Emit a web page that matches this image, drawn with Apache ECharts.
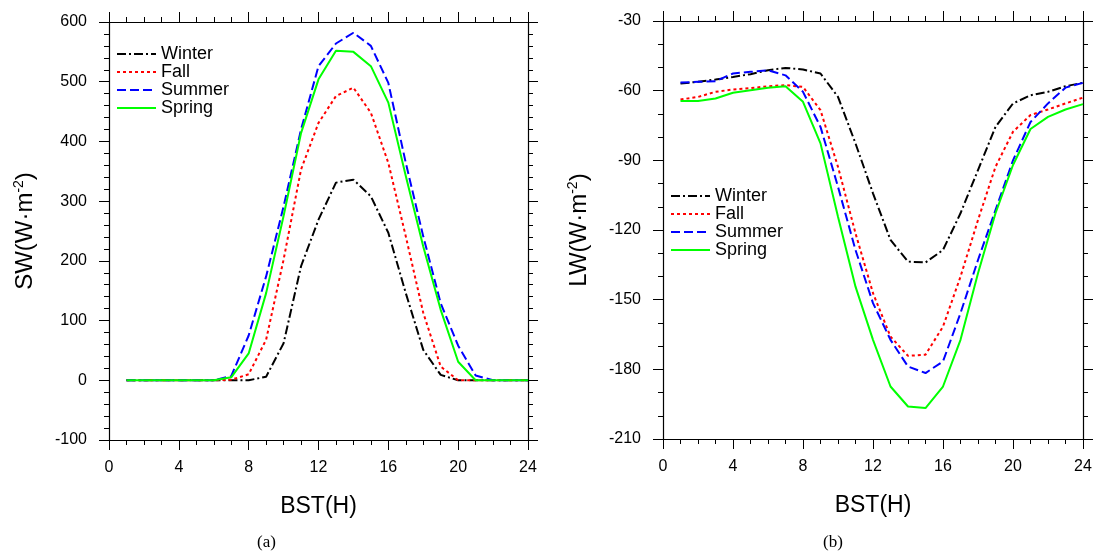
<!DOCTYPE html>
<html>
<head>
<meta charset="utf-8">
<script src="https://cdn.jsdelivr.net/npm/echarts@6/dist/echarts.min.js"></script>
<style>
  html, body { margin: 0; padding: 0; background: #fff; }
  #main { width: 1095px; height: 552px; }
</style>
</head>
<body>
<div id="main"></div>
<script>
// hours of the day (BST)
var hours = [1,2,3,4,5,6,7,8,9,10,11,12,13,14,15,16,17,18,19,20,21,22,23,24];
var seasonNames = ['Winter', 'Fall', 'Summer', 'Spring'];

// (a) shortwave, W m-2
var swWinter = [0,0,0,0,0,0,0,0,6,62,191,269,331,336,308,247,146,51,9,0,0,0,0,0];
var swFall   = [0,0,0,0,0,0,1,10,68,202,353,431,476,490,448,364,241,113,23,0,0,0,0,0];
var swSummer = [0,0,0,0,0,0,7,75,174,291,420,526,564,582,560,498,364,241,129,58,8,0,0,0];
var swSpring = [0,0,0,0,0,0,5,45,146,275,414,504,552,550,526,465,342,224,118,31,0,0,0,0];

// (b) longwave, W m-2
var lwWinter = [-56.9,-56.2,-55.2,-54.1,-52.9,-51.2,-50.2,-50.9,-52.6,-62.7,-82.7,-104.2,-124.3,-133.6,-134.0,-128.6,-112.8,-94.2,-75.6,-65.5,-62.0,-60.5,-58.1,-56.6];
var lwFall   = [-63.8,-62.7,-60.5,-59.5,-58.9,-58.1,-57.6,-58.4,-68.4,-92.8,-121.4,-147.2,-165.9,-174.2,-173.7,-161.6,-140.1,-115.7,-92.8,-77.7,-70.5,-68.1,-65.5,-63.0];
var lwSummer = [-56.5,-56.2,-55.9,-52.6,-51.9,-51.2,-53.4,-60.5,-75.6,-101.4,-128.6,-151.5,-167.3,-178.8,-181.6,-176.6,-155.8,-132.9,-111.4,-90.0,-73.5,-65.5,-58.7,-56.6];
var lwSpring = [-64.4,-64.4,-63.4,-60.9,-59.8,-58.7,-58.1,-64.8,-82.7,-114.3,-144.4,-167.3,-187.4,-196.0,-196.7,-187.4,-167.3,-138.6,-112.8,-92.0,-76.5,-71.3,-68.1,-65.8];

var FONT = 'Liberation Sans, Arial, sans-serif';

var styles = {
  Winter: { color: '#000000', type: [9, 3, 2, 3] },
  Fall:   { color: '#ff0000', type: [3, 3] },
  Summer: { color: '#0000ff', type: [9, 4] },
  Spring: { color: '#00ff00', type: 'solid' }
};

function pairs(vals) {
  return hours.map(function (h, i) { return [h, vals[i]]; });
}

function mkSeries(name, vals, idx) {
  return {
    name: name,
    type: 'line',
    xAxisIndex: idx * 2,
    yAxisIndex: idx * 2,
    symbol: 'none',
    animation: false,
    lineStyle: { color: styles[name].color, width: 2, type: styles[name].type },
    itemStyle: { color: styles[name].color },
    data: pairs(vals)
  };
}

var axisLine = { show: true, onZero: false, lineStyle: { color: '#000', width: 1.2 } };
var majorTick = { show: true, inside: false, length: 10, lineStyle: { color: '#000', width: 1 } };

function xAx(gridIndex, pos) {
  var main = pos === 'bottom';
  return {
    type: 'value', gridIndex: gridIndex, position: pos,
    min: 0, max: 24, interval: 4,
    axisLine: axisLine, axisTick: majorTick,
    minorTick: { show: true, splitNumber: 4, length: 5, lineStyle: { color: '#000', width: 1 } },
    splitLine: { show: false }, minorSplitLine: { show: false },
    axisLabel: { show: main, color: '#000', fontSize: 16, fontFamily: FONT, margin: 20 },
    name: main ? 'BST(H)' : '',
    nameLocation: 'middle', nameGap: 55,
    nameTextStyle: { color: '#000', fontSize: 23, fontFamily: FONT }
  };
}

function yAx(gridIndex, pos, min, max, interval, minorSplit, title) {
  var main = pos === 'left';
  return {
    type: 'value', gridIndex: gridIndex, position: pos,
    min: min, max: max, interval: interval,
    axisLine: axisLine, axisTick: majorTick,
    minorTick: { show: true, splitNumber: minorSplit, length: 5, lineStyle: { color: '#000', width: 1 } },
    splitLine: { show: false }, minorSplitLine: { show: false },
    axisLabel: { show: main, color: '#000', fontSize: 16, fontFamily: FONT, margin: 22 },
    name: main ? '{t|' + title + '(W·m}{s|-2}{t|)}' : '',
    nameLocation: 'middle', nameRotate: 90, nameGap: 70,
    nameTextStyle: {
      color: '#000', fontFamily: FONT,
      rich: {
        t: { fontSize: 24, fontFamily: FONT, color: '#000' },
        s: { fontSize: 14, fontFamily: FONT, color: '#000', padding: [0, 0, 13, 0] }
      }
    }
  };
}

function legendAt(left, top, rowH) {
  return {
    left: left, top: top, orient: 'vertical', padding: 0,
    itemWidth: 39, itemHeight: 12, itemGap: 0,
    data: seasonNames,
    itemStyle: { opacity: 0 },
    textStyle: { color: '#000', fontSize: 18, fontFamily: FONT, lineHeight: rowH },
    selectedMode: false
  };
}

var chart = echarts.init(document.getElementById('main'));

var option = {
  backgroundColor: '#fff',
  animation: false,
  grid: [
    { left: 109, top: 22, width: 419, height: 418 },
    { left: 663, top: 21, width: 420, height: 418 }
  ],
  xAxis: [xAx(0, 'bottom'), xAx(0, 'top'), xAx(1, 'bottom'), xAx(1, 'top')],
  yAxis: [
    yAx(0, 'left', -100, 600, 100, 5, 'SW'),
    yAx(0, 'right', -100, 600, 100, 5, 'SW'),
    yAx(1, 'left', -210, -30, 30, 3, 'LW'),
    yAx(1, 'right', -210, -30, 30, 3, 'LW')
  ],
  legend: [
    legendAt(116, 45, 17),
    legendAt(670, 187, 17.8)
  ],
  series: [
    mkSeries('Winter', swWinter, 0),
    mkSeries('Fall', swFall, 0),
    mkSeries('Summer', swSummer, 0),
    mkSeries('Spring', swSpring, 0),
    mkSeries('Winter', lwWinter, 1),
    mkSeries('Fall', lwFall, 1),
    mkSeries('Summer', lwSummer, 1),
    mkSeries('Spring', lwSpring, 1)
  ],
  graphic: [
    { type: 'text', left: 257, top: 534, style: { text: '(a)', font: '17px "Liberation Serif", serif', fill: '#000' } },
    { type: 'text', left: 823, top: 534, style: { text: '(b)', font: '17px "Liberation Serif", serif', fill: '#000' } }
  ]
};

chart.setOption(option);
</script>
</body>
</html>
